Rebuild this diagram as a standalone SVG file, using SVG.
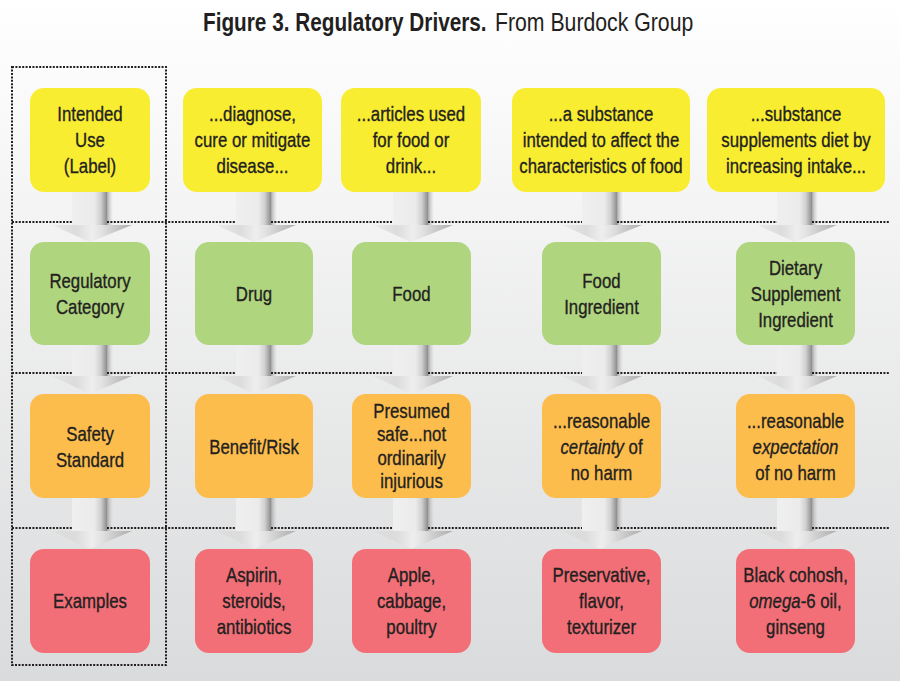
<svg xmlns="http://www.w3.org/2000/svg" width="900" height="681" viewBox="0 0 900 681">
<defs>
<linearGradient id="bg" x1="0" y1="0" x2="0" y2="1">
<stop offset="0" stop-color="#ffffff"/>
<stop offset="1" stop-color="#dadbdc"/>
</linearGradient>
<linearGradient id="shaft" x1="0" y1="0" x2="1" y2="0">
<stop offset="0" stop-color="#efeff0"/>
<stop offset="0.55" stop-color="#ebebec"/>
<stop offset="0.7" stop-color="#d0d0d1"/>
<stop offset="0.85" stop-color="#8e8e8f"/>
<stop offset="0.87" stop-color="#9d9d9e" stop-opacity="0.7"/>
<stop offset="1" stop-color="#c0c0c0" stop-opacity="0"/>
</linearGradient>
<linearGradient id="head" x1="0" y1="0" x2="1" y2="0">
<stop offset="0" stop-color="#d4d4d5" stop-opacity="0.2"/>
<stop offset="0.3" stop-color="#dcdcdd"/>
<stop offset="0.5" stop-color="#eeeeef"/>
<stop offset="0.62" stop-color="#e2e2e3"/>
<stop offset="1" stop-color="#a4a4a5" stop-opacity="0.85"/>
</linearGradient>
<style>
.t{font-family:"Liberation Sans",Arial,sans-serif;font-size:20.5px;fill:#231f20;stroke:#231f20;stroke-width:0.35px;text-anchor:middle}
.y{fill:#f9ed32}
.g{fill:#b0d57f}
.o{fill:#fdbd4d}
.r{fill:#f26f77}
.dot{fill:none;stroke:#231f20;stroke-width:2;stroke-dasharray:2 1.4}
.sh{fill:url(#shaft)}
.hd{fill:url(#head)}
.ttl{font-family:"Liberation Sans",Arial,sans-serif;font-size:25px;fill:#231f20}
</style>
</defs>
<rect width="900" height="681" fill="url(#bg)"/>
<g id="title">
<text class="ttl" transform="translate(203 31) scale(0.83 1)" font-weight="bold">Figure 3. Regulatory Drivers.</text>
<text class="ttl" transform="translate(495 31) scale(0.85 1)">From Burdock Group</text>
</g>

<g id="connectors">
<rect class="sh" x="72" y="190" width="41" height="35"/>
<polygon class="hd" points="52,225 132,225 90,242"/>
<rect class="sh" x="236" y="190" width="41" height="35"/>
<polygon class="hd" points="216,225 296,225 254,242"/>
<rect class="sh" x="393" y="190" width="41" height="35"/>
<polygon class="hd" points="373,225 453,225 411,242"/>
<rect class="sh" x="582" y="190" width="41" height="35"/>
<polygon class="hd" points="562,225 642,225 600,242"/>
<rect class="sh" x="777" y="190" width="41" height="35"/>
<polygon class="hd" points="757,225 837,225 795,242"/>
<rect class="sh" x="72" y="343" width="41" height="33"/>
<polygon class="hd" points="52,376 132,376 90,394"/>
<rect class="sh" x="236" y="343" width="41" height="33"/>
<polygon class="hd" points="216,376 296,376 254,394"/>
<rect class="sh" x="393" y="343" width="41" height="33"/>
<polygon class="hd" points="373,376 453,376 411,394"/>
<rect class="sh" x="582" y="343" width="41" height="33"/>
<polygon class="hd" points="562,376 642,376 600,394"/>
<rect class="sh" x="777" y="343" width="41" height="33"/>
<polygon class="hd" points="757,376 837,376 795,394"/>
<rect class="sh" x="72" y="496" width="41" height="35"/>
<polygon class="hd" points="52,531 132,531 90,549"/>
<rect class="sh" x="236" y="496" width="41" height="35"/>
<polygon class="hd" points="216,531 296,531 254,549"/>
<rect class="sh" x="393" y="496" width="41" height="35"/>
<polygon class="hd" points="373,531 453,531 411,549"/>
<rect class="sh" x="582" y="496" width="41" height="35"/>
<polygon class="hd" points="562,531 642,531 600,549"/>
<rect class="sh" x="777" y="496" width="41" height="35"/>
<polygon class="hd" points="757,531 837,531 795,549"/>
</g>

<g id="grid">
<rect class="dot" x="12" y="67" width="154" height="598"/>
<path class="dot" d="M12,222H72M107,222H236M271,222H393M428,222H582M617,222H777M812,222H890
M12,373H72M107,373H236M271,373H393M428,373H582M617,373H777M812,373H890
M12,528H72M107,528H236M271,528H393M428,528H582M617,528H777M812,528H890"/>
</g>

<g id="use-label"><rect class="y" x="30" y="88" width="120" height="104" rx="14"/>
<text class="t" transform="translate(90 0) scale(0.82 1)"><tspan x="0" y="121">Intended</tspan><tspan x="0" y="147">Use</tspan><tspan x="0" y="173">(Label)</tspan></text></g>
<g id="use-drug"><rect class="y" x="183" y="88" width="139" height="104" rx="14"/>
<text class="t" transform="translate(252.5 0) scale(0.82 1)"><tspan x="0" y="121">...diagnose,</tspan><tspan x="0" y="147">cure or mitigate</tspan><tspan x="0" y="173">disease...</tspan></text></g>
<g id="use-food"><rect class="y" x="341" y="88" width="140" height="104" rx="14"/>
<text class="t" transform="translate(411 0) scale(0.82 1)"><tspan x="0" y="121">...articles used</tspan><tspan x="0" y="147">for food or</tspan><tspan x="0" y="173">drink...</tspan></text></g>
<g id="use-ingredient"><rect class="y" x="512" y="88" width="178" height="104" rx="14"/>
<text class="t" transform="translate(601 0) scale(0.82 1)"><tspan x="0" y="121">...a substance</tspan><tspan x="0" y="147">intended to affect the</tspan><tspan x="0" y="173">characteristics of food</tspan></text></g>
<g id="use-supplement"><rect class="y" x="707" y="88" width="178" height="104" rx="14"/>
<text class="t" transform="translate(796 0) scale(0.82 1)"><tspan x="0" y="121">...substance</tspan><tspan x="0" y="147">supplements diet by</tspan><tspan x="0" y="173">increasing intake...</tspan></text></g>

<g id="cat-label"><rect class="g" x="30" y="242" width="120" height="103" rx="14"/>
<text class="t" transform="translate(90 0) scale(0.82 1)"><tspan x="0" y="288">Regulatory</tspan><tspan x="0" y="314">Category</tspan></text></g>
<g id="cat-drug"><rect class="g" x="195" y="242" width="118" height="103" rx="14"/>
<text class="t" transform="translate(254 0) scale(0.82 1)" x="0" y="301">Drug</text></g>
<g id="cat-food"><rect class="g" x="352" y="242" width="119" height="103" rx="14"/>
<text class="t" transform="translate(411.5 0) scale(0.82 1)" x="0" y="301">Food</text></g>
<g id="cat-ingredient"><rect class="g" x="542" y="242" width="119" height="103" rx="14"/>
<text class="t" transform="translate(601.5 0) scale(0.82 1)"><tspan x="0" y="288">Food</tspan><tspan x="0" y="314">Ingredient</tspan></text></g>
<g id="cat-supplement"><rect class="g" x="736" y="242" width="119" height="103" rx="14"/>
<text class="t" transform="translate(795.5 0) scale(0.82 1)"><tspan x="0" y="275">Dietary</tspan><tspan x="0" y="301">Supplement</tspan><tspan x="0" y="327">Ingredient</tspan></text></g>

<g id="safety-label"><rect class="o" x="30" y="394" width="120" height="104" rx="14"/>
<text class="t" transform="translate(90 0) scale(0.82 1)"><tspan x="0" y="441">Safety</tspan><tspan x="0" y="467">Standard</tspan></text></g>
<g id="safety-drug"><rect class="o" x="195" y="394" width="118" height="104" rx="14"/>
<text class="t" transform="translate(254 0) scale(0.82 1)" x="0" y="454">Benefit/Risk</text></g>
<g id="safety-food"><rect class="o" x="352" y="394" width="119" height="104" rx="14"/>
<text class="t" transform="translate(411.5 0) scale(0.82 1)"><tspan x="0" y="418">Presumed</tspan><tspan x="0" y="441.5">safe...not</tspan><tspan x="0" y="465">ordinarily</tspan><tspan x="0" y="488.5">injurious</tspan></text></g>
<g id="safety-ingredient"><rect class="o" x="542" y="394" width="119" height="104" rx="14"/>
<text class="t" transform="translate(601.5 0) scale(0.82 1)"><tspan x="0" y="428">...reasonable</tspan><tspan x="0" y="454"><tspan font-style="italic">certainty</tspan> of</tspan><tspan x="0" y="480">no harm</tspan></text></g>
<g id="safety-supplement"><rect class="o" x="736" y="394" width="119" height="104" rx="14"/>
<text class="t" transform="translate(795.5 0) scale(0.82 1)"><tspan x="0" y="428">...reasonable</tspan><tspan x="0" y="454" font-style="italic">expectation</tspan><tspan x="0" y="480">of no harm</tspan></text></g>

<g id="ex-label"><rect class="r" x="30" y="549" width="120" height="104" rx="14"/>
<text class="t" transform="translate(90 0) scale(0.82 1)" x="0" y="608">Examples</text></g>
<g id="ex-drug"><rect class="r" x="195" y="549" width="118" height="104" rx="14"/>
<text class="t" transform="translate(254 0) scale(0.82 1)"><tspan x="0" y="582">Aspirin,</tspan><tspan x="0" y="608">steroids,</tspan><tspan x="0" y="634">antibiotics</tspan></text></g>
<g id="ex-food"><rect class="r" x="352" y="549" width="119" height="104" rx="14"/>
<text class="t" transform="translate(411.5 0) scale(0.82 1)"><tspan x="0" y="582">Apple,</tspan><tspan x="0" y="608">cabbage,</tspan><tspan x="0" y="634">poultry</tspan></text></g>
<g id="ex-ingredient"><rect class="r" x="542" y="549" width="119" height="104" rx="14"/>
<text class="t" transform="translate(601.5 0) scale(0.82 1)"><tspan x="0" y="582">Preservative,</tspan><tspan x="0" y="608">flavor,</tspan><tspan x="0" y="634">texturizer</tspan></text></g>
<g id="ex-supplement"><rect class="r" x="736" y="549" width="119" height="104" rx="14"/>
<text class="t" transform="translate(795.5 0) scale(0.82 1)"><tspan x="0" y="582">Black cohosh,</tspan><tspan x="0" y="608"><tspan font-style="italic">omega</tspan>-6 oil,</tspan><tspan x="0" y="634">ginseng</tspan></text></g>
</svg>
